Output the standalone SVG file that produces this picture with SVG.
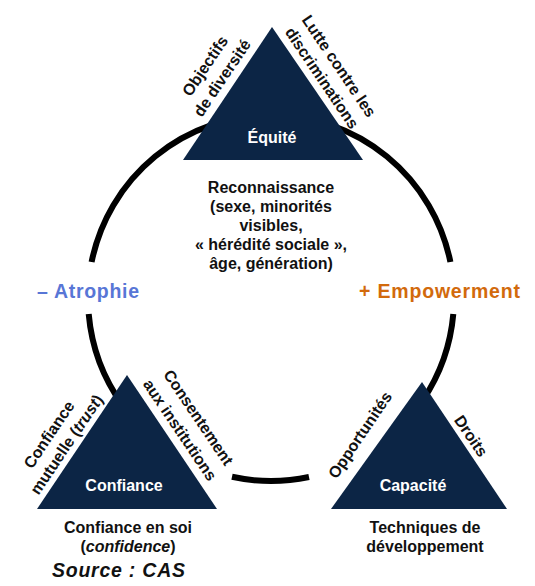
<svg xmlns="http://www.w3.org/2000/svg" width="535" height="586" viewBox="0 0 535 586">
<style>
.t{font-family:"Liberation Sans",Arial,Helvetica,sans-serif;font-weight:bold;font-size:16px;fill:#111;text-anchor:middle}
.w{fill:#fff}
.tri{fill:#0c2545}
.ring{fill:none;stroke:#000;stroke-width:6}
.big{font-family:"Liberation Sans",Arial,Helvetica,sans-serif;font-weight:bold;font-size:19.5px}
</style>
<rect width="535" height="586" fill="#fff"/>
<g id="connectors">
<path class="ring" d="M 91.6 262 A 183 183 0 0 1 450.4 262"/>
<path class="ring" d="M 453.3 314 A 183 183 0 0 1 422.9 400"/>
<path class="ring" d="M 232 476.8 A 183 183 0 0 0 309 477"/>
<path class="ring" d="M 122.5 405 A 183 183 0 0 1 88.7 314"/>
</g>
<g id="equite">
<polygon class="tri" points="272,27 183,160 363,160"/>
<text class="t w" x="272" y="143">Équité</text>
<text class="t" transform="translate(205,66) rotate(-56)" y="5.5">Objectifs</text>
<text class="t" transform="translate(222,78) rotate(-56)" y="5.5">de diversité</text>
<text class="t" transform="translate(339,66) rotate(56)" y="5.5">Lutte contre les</text>
<text class="t" transform="translate(322,78) rotate(56)" y="5.5">discriminations</text>
<text class="t" x="271" y="192.5">Reconnaissance</text>
<text class="t" x="271" y="211.5">(sexe, minorités</text>
<text class="t" x="271" y="230.5">visibles,</text>
<text class="t" x="271" y="249.5">« hérédité sociale »,</text>
<text class="t" x="271" y="268.5">âge, génération)</text>
</g>
<g id="confiance">
<polygon class="tri" points="127,375 37,509 217,509"/>
<text class="t w" x="124" y="491">Confiance</text>
<text class="t" transform="translate(49,434.5) rotate(-56)" y="5.5">Confiance</text>
<text class="t" transform="translate(66.5,444.5) rotate(-56)" y="5.5">mutuelle (<tspan font-style="italic">trust</tspan>)</text>
<text class="t" transform="translate(198.5,417.5) rotate(56)" y="5.5">Consentement</text>
<text class="t" transform="translate(180,430) rotate(56)" y="5.5">aux institutions</text>
<text class="t" x="128" y="533">Confiance en soi</text>
<text class="t" x="128" y="552">(<tspan font-style="italic">confidence</tspan>)</text>
</g>
<g id="capacite">
<polygon class="tri" points="422,382 331,509 507,509"/>
<text class="t w" x="413" y="491">Capacité</text>
<text class="t" transform="translate(360,435) rotate(-56)" y="5.5">Opportunités</text>
<text class="t" transform="translate(471,436) rotate(56)" y="5.5">Droits</text>
<text class="t" x="425" y="533">Techniques de</text>
<text class="t" x="425" y="552">développement</text>
</g>
<g id="atrophie">
<text class="big" x="37" y="298" fill="#5876d6" textLength="102" lengthAdjust="spacing">– Atrophie</text>
</g>
<g id="empowerment">
<text class="big" x="359" y="298" fill="#d26a0c" textLength="161" lengthAdjust="spacing">+ Empowerment</text>
</g>
<g id="source">
<text class="big" x="52" y="577" font-size="20" font-style="italic" fill="#111" textLength="133" lengthAdjust="spacing">Source : CAS</text>
</g>
</svg>
